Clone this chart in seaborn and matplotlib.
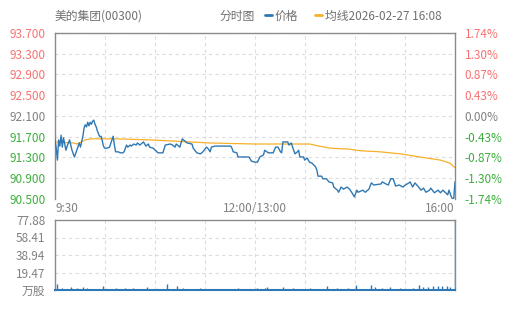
import matplotlib
matplotlib.use("Agg")
import matplotlib.pyplot as plt
import seaborn as sns
import pandas as pd

# ---- data ----
price_min = [0, 1, 2, 3, 4, 5, 6, 7, 8, 9, 10, 12, 13, 14, 16, 18, 20, 21, 23, 24, 25, 26, 27, 28, 29, 30,
             31, 32, 33, 34, 35, 36, 37, 38, 39, 40, 41, 43, 45, 47, 48, 49, 50, 52, 54, 56, 57, 59, 60, 62,
             63, 65, 67, 68, 70, 72, 73, 75, 77, 78, 81, 85, 89, 91, 95, 97, 99, 100, 103, 105, 109, 113,
             114, 117, 120, 122, 125, 126, 128, 129, 132, 139, 145, 146, 147, 150, 151, 155, 160, 162, 165,
             167, 169, 172, 173, 176, 180, 182, 184, 186, 187, 188, 192, 193, 195, 196, 198, 200, 201, 202,
             205, 206, 208, 210, 212, 215, 216, 217, 220, 221, 224, 226, 229, 230, 233, 234, 236, 238, 241,
             243, 245, 247, 249, 250, 254, 256, 259, 261, 263, 269, 270, 273, 275, 277, 279, 281, 284, 287,
             289, 292, 293, 295, 297, 300, 302, 304, 306, 309, 310, 313, 316, 318, 320, 324, 325, 327, 328,
             329, 330]
price_val = [91.64, 91.48, 91.25, 91.64, 91.52, 91.73, 91.50, 91.68, 91.56, 91.44, 91.52, 91.64, 91.54,
             91.44, 91.31, 91.44, 91.58, 91.50, 91.71, 91.87, 91.93, 91.89, 91.98, 91.91, 91.98, 91.94,
             92.00, 92.02, 91.94, 91.89, 91.81, 91.75, 91.70, 91.71, 91.62, 91.52, 91.48, 91.48, 91.50,
             91.64, 91.71, 91.54, 91.41, 91.41, 91.39, 91.39, 91.41, 91.54, 91.50, 91.54, 91.52, 91.56,
             91.54, 91.58, 91.54, 91.58, 91.60, 91.52, 91.56, 91.50, 91.48, 91.39, 91.39, 91.54, 91.56,
             91.54, 91.50, 91.56, 91.50, 91.66, 91.58, 91.56, 91.48, 91.39, 91.37, 91.41, 91.50, 91.48,
             91.41, 91.50, 91.52, 91.52, 91.52, 91.48, 91.41, 91.39, 91.31, 91.31, 91.31, 91.23, 91.21,
             91.21, 91.31, 91.35, 91.44, 91.39, 91.39, 91.50, 91.50, 91.41, 91.39, 91.60, 91.60, 91.54,
             91.58, 91.50, 91.37, 91.41, 91.44, 91.31, 91.31, 91.25, 91.29, 91.21, 91.19, 91.12, 91.06,
             90.94, 90.94, 90.89, 90.89, 90.83, 90.81, 90.73, 90.67, 90.63, 90.73, 90.69, 90.73, 90.69,
             90.62, 90.54, 90.67, 90.63, 90.67, 90.63, 90.69, 90.81, 90.77, 90.79, 90.83, 90.79, 90.77,
             90.89, 90.89, 90.75, 90.77, 90.73, 90.77, 90.81, 90.83, 90.73, 90.81, 90.73, 90.67, 90.71,
             90.63, 90.67, 90.71, 90.62, 90.67, 90.62, 90.67, 90.58, 90.67, 90.54, 90.50, 90.52, 90.83]

avg_min = [0, 15, 18, 20, 25, 30, 50, 78, 128, 165, 210, 218, 227, 243, 252, 268, 285, 301, 318, 326, 330]
avg_val = [91.60, 91.58, 91.56, 91.58, 91.64, 91.66, 91.66, 91.64, 91.58, 91.56, 91.56, 91.52, 91.48,
           91.46, 91.43, 91.41, 91.37, 91.31, 91.25, 91.19, 91.10]

vol_min = [2, 6, 13, 18, 23, 26, 40, 50, 58, 64, 76, 92, 101, 106, 120, 151, 167, 173, 175, 188, 196, 210,
           224, 233, 242, 248, 261, 264, 270, 276, 285, 295, 300, 304, 308, 312, 316, 319, 323, 326, 330]
vol_val = [6.5, 2.7, 3.4, 2.7, 3.4, 2.7, 4.6, 2.7, 2.3, 2.7, 3.4, 6.9, 5.0, 2.7, 2.3, 2.3, 2.7, 2.7, 3.1,
           3.4, 2.3, 2.3, 3.9, 2.7, 2.3, 5.2, 5.2, 3.4, 2.7, 3.4, 2.7, 2.3, 6.0, 3.4, 3.1, 3.9, 4.6, 4.2,
           4.6, 3.1, 77.88]

prev_close = 92.100
price_ticks = [90.5, 90.9, 91.3, 91.7, 92.1, 92.5, 92.9, 93.3, 93.7]
price_labels = ["90.500", "90.900", "91.300", "91.700", "92.100", "92.500", "92.900", "93.300", "93.700"]
pct_labels = ["-1.74%", "-1.30%", "-0.87%", "-0.43%", "0.00%", "0.43%", "0.87%", "1.30%", "1.74%"]
vol_ticks = [0, 19.47, 38.94, 58.41, 77.88]
vol_labels = ["万股", "19.47", "38.94", "58.41", "77.88"]
time_pos = [0, 165, 330]
time_labels = ["9:30", "12:00/13:00", "16:00"]
grid_x = [0, 41.25, 82.5, 123.75, 165, 206.25, 247.5, 288.75, 330]

# ---- style ----
sns.set_theme(style="white")
plt.rcParams["font.family"] = ["Noto Sans CJK SC", "DejaVu Sans"]
plt.rcParams["axes.unicode_minus"] = False

BLUE = "#2f78b4"
ORANGE = "#f7b028"
RED = "#f87171"
GREEN = "#3dae3d"
GRAY = "#808080"
GRID = "#dcdcdc"
SPINE = "#8a8a8a"

fig = plt.figure(figsize=(5.05, 3.10), dpi=100)
ax = fig.add_axes([55 / 505, 1 - 199 / 310, 400 / 505, 166 / 310])
axv = fig.add_axes([55 / 505, 1 - 290 / 310, 400 / 505, 70 / 310])

price_df = pd.DataFrame({"minute": price_min, "price": price_val})
avg_df = pd.DataFrame({"minute": avg_min, "avg": avg_val})

for gx in grid_x[1:-1]:
    ax.axvline(gx, color=GRID, lw=0.8, ls=(0, (3, 3)), zorder=0)
    axv.axvline(gx, color=GRID, lw=0.8, ls=(0, (3, 3)), zorder=0)
for gy in price_ticks:
    ax.axhline(gy, color=GRID, lw=0.8, ls=(0, (3, 3)), zorder=0)
for gy in vol_ticks[1:-1]:
    axv.axhline(gy, color=GRID, lw=0.8, ls=(0, (3, 3)), zorder=0)

sns.lineplot(data=avg_df, x="minute", y="avg", ax=ax, color=ORANGE, lw=0.9, zorder=3)
sns.lineplot(data=price_df, x="minute", y="price", ax=ax, color=BLUE, lw=1.0, zorder=4)

ax.set_xlim(0, 330)
ax.set_ylim(price_ticks[0], price_ticks[-1])
ax.set_xlabel("")
ax.set_ylabel("")
ax.set_yticks(price_ticks)
ax.set_yticklabels(price_labels)
ax.set_xticks([])
ax.tick_params(axis="y", length=0, pad=7, labelsize=8.5)
for lab, v in zip(ax.get_yticklabels(), price_ticks):
    lab.set_color(RED if v > prev_close + 1e-9 else (GREEN if v < prev_close - 1e-9 else GRAY))

for s in ["left", "top", "right"]:
    ax.spines[s].set_color(SPINE)
    ax.spines[s].set_linewidth(1.0)
ax.spines["bottom"].set_visible(False)

# time labels
for pos, lab, ha in zip(time_pos, time_labels, ["left", "center", "right"]):
    ax.text(pos, -0.02, lab, transform=ax.get_xaxis_transform(), ha=ha, va="top",
            fontsize=8.5, color=GRAY)

# right percent axis
ax2 = ax.twinx()
ax2.set_ylim(ax.get_ylim())
ax2.set_yticks(price_ticks)
ax2.set_yticklabels(pct_labels)
ax2.tick_params(axis="y", length=0, pad=7, labelsize=8.5)
for lab, v in zip(ax2.get_yticklabels(), price_ticks):
    lab.set_color(RED if v > prev_close + 1e-9 else (GREEN if v < prev_close - 1e-9 else GRAY))
for s in ax2.spines.values():
    s.set_visible(False)

# volume
axv.vlines(vol_min, 0, vol_val, color=BLUE, lw=1.0, zorder=3)
axv.set_xlim(0, 330)
axv.set_ylim(0, vol_ticks[-1])
axv.set_xticks([])
axv.set_yticks(vol_ticks)
axv.set_yticklabels(vol_labels)
axv.tick_params(axis="y", length=0, pad=7, labelsize=8.5, labelcolor=GRAY)
for s in ["left", "top", "right"]:
    axv.spines[s].set_color(SPINE)
    axv.spines[s].set_linewidth(1.0)
axv.spines["bottom"].set_color(BLUE)
axv.spines["bottom"].set_linewidth(1.5)

# header
fig.text(55 / 505, 1 - 16 / 310, "美的集团(00300)", ha="left", va="center", fontsize=8.5, color="#707070")
fig.text(219 / 505, 1 - 16 / 310, "分时图", ha="left", va="center", fontsize=8.5, color="#707070")
fig.lines.append(plt.Line2D([265 / 505, 272 / 505], [1 - 15 / 310] * 2, transform=fig.transFigure,
                            color=BLUE, lw=2))
fig.text(275 / 505, 1 - 16 / 310, "价格", ha="left", va="center", fontsize=8.5, color="#707070")
fig.lines.append(plt.Line2D([315 / 505, 322 / 505], [1 - 15 / 310] * 2, transform=fig.transFigure,
                            color=ORANGE, lw=2))
fig.text(325 / 505, 1 - 16 / 310, "均线2026-02-27 16:08", ha="left", va="center", fontsize=8.5,
         color="#707070")

fig.savefig("out.png", dpi=100)
